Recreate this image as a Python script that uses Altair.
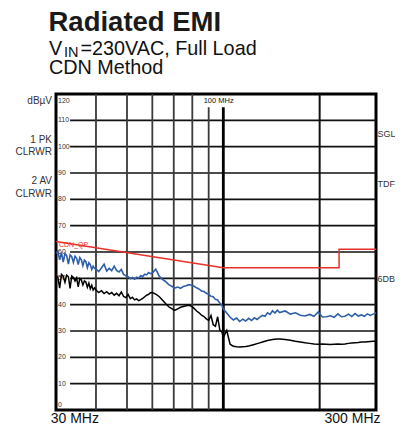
import altair as alt
import pandas as pd

# ---------------- data ----------------
freq_mhz = [
    30.0, 30.4, 30.8, 31.2, 31.6, 32.0, 32.4, 32.8, 33.2, 33.6, 34.0, 34.4, 34.8,
    35.2, 35.6, 36.0, 36.4, 36.8, 37.2, 37.6, 38.0, 38.4, 38.8, 39.2, 39.6,
    40.0, 40.8, 41.6, 42.4, 43.2, 44.0, 44.8, 45.6, 46.4, 47.2, 48.0, 48.8, 49.6,
    50.4, 51.2, 52.0, 52.8, 53.6, 54.4, 55.2, 56.0, 56.8, 57.6, 58.4, 59.2,
    60, 61.5, 63, 64.5, 66, 67.5, 69, 70.5, 72, 73.5, 75, 76.5, 78, 79.5, 81,
    82.5, 84, 85.5, 87, 88.5, 90, 91.5, 93, 94.5, 96, 97.5, 99,
    100, 102.5, 105, 107.5, 110, 112.5, 115, 117.5, 120, 122.5, 125, 127.5, 130,
    132.5, 135, 137.5, 140, 142.5, 145, 147.5,
    150, 156, 162, 168, 174, 180, 186, 192, 198, 204, 210, 216, 222, 228, 234,
    240, 246, 252, 258, 264, 270, 276, 282, 288, 294, 300,
]
peak_dbuv = [
    59.5, 60.3, 57.0, 59.8, 56.2, 59.4, 58.6, 55.4, 58.9, 58.2, 56.0, 58.4, 57.6,
    55.2, 57.9, 57.0, 54.8, 56.9, 56.3, 54.0, 55.9, 55.2, 53.4, 54.6, 53.8,
    53.6, 52.6, 53.9, 55.4, 52.8, 53.8, 52.9, 54.6, 53.0, 52.4, 53.4, 51.5, 51.0,
    50.6, 49.9, 50.3, 49.7, 50.4, 50.1, 51.0, 50.7, 51.6, 51.3, 52.2, 51.8,
    52.0, 53.5, 50.9, 49.6, 48.8, 47.6, 47.0, 46.3, 46.7, 46.2, 46.9, 47.2, 47.6,
    47.4, 47.0, 46.4, 45.9, 45.2, 45.0, 44.3, 44.0, 43.2, 43.0, 42.0, 41.8, 40.6, 39.8,
    38.3, 36.8, 35.2, 34.2, 34.9, 33.6, 34.5, 33.8, 34.8, 34.0, 35.0, 34.4, 35.3,
    35.9, 35.6, 36.9, 36.3, 37.7, 36.8, 37.9,
    37.0, 37.6, 36.4, 36.9, 36.0, 35.7, 36.3, 35.6, 37.2, 35.3, 35.4, 35.8, 35.2,
    36.5, 35.4, 35.6, 36.4, 35.5, 36.6, 35.7, 36.1, 35.6, 36.5, 35.9, 36.4, 36.9,
]
avg_dbuv = [
    51.2, 50.4, 46.3, 51.5, 50.8, 48.5, 51.2, 50.6, 46.2, 50.9, 50.3, 49.0, 50.2,
    46.8, 49.9, 49.4, 47.5, 49.0, 48.6, 46.6, 48.2, 46.0, 47.4, 45.6, 46.4,
    45.6, 44.6, 45.3, 44.2, 44.9, 44.0, 44.6, 43.6, 44.3, 43.4, 44.8, 43.1, 42.7,
    43.9, 42.3, 42.8, 41.8, 42.2, 41.5, 41.9, 42.4, 43.0, 43.6, 43.9, 44.5,
    44.6, 44.0, 43.1, 41.8, 40.4, 39.2, 38.5, 37.8, 38.4, 39.0, 39.3, 39.6, 39.8,
    39.4, 38.6, 37.6, 36.9, 36.0, 35.5, 34.6, 34.0, 35.9, 32.4, 31.8, 35.4, 30.4, 29.6,
    27.6, 30.2, 25.0, 24.2, 24.0, 23.9, 24.0, 24.1, 24.3, 24.6, 24.9, 25.2, 25.5,
    25.8, 26.1, 26.4, 26.6, 26.8, 26.9, 27.0,
    27.0, 26.8, 26.5, 26.1, 25.8, 25.5, 25.3, 25.1, 25.0, 25.1, 25.0, 24.9, 25.0,
    25.1, 25.0, 25.1, 25.3, 25.4, 25.5, 25.6, 25.8, 25.8, 25.9, 26.0, 26.1, 26.1,
]
limit_freq = [30, 100, 230, 230, 300]
limit_dbuv = [64, 54, 54, 61, 61]

hgrid_dbuv = [10, 20, 30, 40, 50, 60, 70, 80, 90, 100, 110]
vgrid_thin = [40, 50, 60, 70, 80]
vgrid_short = [90]
vgrid_thick = [100]
vgrid_far = [200]
y_mid_ticks = [10, 20, 30, 40, 50, 60, 70, 80, 90, 100, 110]
y_top_tick = [120]
y_bottom_tick = [0]
x_tick_labels = ["30 MHz", "300 MHz"]

title_text = ["Radiated EMI"]
sub_v = ["V"]
sub_in = ["IN"]
sub_rest = ["=230VAC, Full Load"]
sub_line2 = ["CDN Method"]
left_labels = ["dBµV", "1 PK", "CLRWR", "2 AV", "CLRWR"]
right_labels = ["SGL", "TDF", "6DB"]
limit_label = ["CDN_QP"]
marker_label = ["100 MHz"]

FONT = "Liberation Sans"

# ---------------- scales ----------------
xs = alt.Scale(type="log", domain=[30, 300], nice=False)
ys = alt.Scale(domain=[0, 120], nice=False, zero=False)

curves = pd.DataFrame({"f": freq_mhz, "peak": peak_dbuv, "avg": avg_dbuv})
limit_df = pd.DataFrame({"f": limit_freq, "v": limit_dbuv})

hgrid = alt.Chart(pd.DataFrame({"v": hgrid_dbuv})).mark_rule(
    color="#111", strokeWidth=1.6
).encode(
    y=alt.Y("v:Q", scale=ys, axis=None),
    x=alt.datum(33.2, scale=xs, axis=None, type="quantitative"),
    x2=alt.datum(300),
)


def vlines(vals, top, color, width):
    return alt.Chart(pd.DataFrame({"f": vals})).mark_rule(
        color=color, strokeWidth=width
    ).encode(
        x=alt.X("f:Q", scale=xs, axis=None),
        y=alt.datum(0, scale=ys, axis=None, type="quantitative"),
        y2=alt.datum(top),
    )


v1 = vlines(vgrid_thin, 120, "#3a3a3a", 1.8)
v2 = vlines(vgrid_short, 115, "#3a3a3a", 1.8)
v3 = vlines(vgrid_thick, 115, "#000000", 2.8)
v4 = vlines(vgrid_far, 120, "#111111", 2.0)


def ytick_layer(vals, baseline, dy):
    return alt.Chart(pd.DataFrame({"v": vals})).mark_text(
        align="left", baseline=baseline, dy=dy, fontSize=7, color="#333", font=FONT
    ).encode(
        text=alt.Text("v:Q"),
        x=alt.value(2),
        y=alt.Y("v:Q", scale=ys, axis=None),
    )


yt_mid = ytick_layer(y_mid_ticks, "middle", 0)
yt_top = ytick_layer(y_top_tick, "top", 3)
yt_bot = ytick_layer(y_bottom_tick, "alphabetic", -3.5)

limit_line = alt.Chart(limit_df).mark_line(color="#e8302a", strokeWidth=1.5).encode(
    x=alt.X("f:Q", scale=xs, axis=None),
    y=alt.Y("v:Q", scale=ys, axis=None),
)
peak_line = alt.Chart(curves).mark_line(color="#2f5fa8", strokeWidth=1.6).encode(
    x=alt.X("f:Q", scale=xs, axis=None),
    y=alt.Y("peak:Q", scale=ys, axis=None),
)
avg_line = alt.Chart(curves).mark_line(color="#000000", strokeWidth=1.5).encode(
    x=alt.X("f:Q", scale=xs, axis=None),
    y=alt.Y("avg:Q", scale=ys, axis=None),
)

limit_txt = alt.Chart(pd.DataFrame({"t": limit_label})).mark_text(
    align="left", baseline="middle", fontSize=7, color="#e8302a", font=FONT
).encode(text="t:N",
         x=alt.datum(30.65, scale=xs, axis=None, type="quantitative"),
         y=alt.datum(62.8, scale=ys, axis=None, type="quantitative"))

marker_txt = alt.Chart(pd.DataFrame({"t": marker_label})).mark_text(
    align="center", baseline="middle", fontSize=7.5, color="#111", font=FONT
).encode(text="t:N",
         x=alt.datum(96.7, scale=xs, axis=None, type="quantitative"),
         y=alt.datum(117.4, scale=ys, axis=None, type="quantitative"))


def pix_text(txt, x, y, size, align="left", weight="normal", color="#111",
             baseline="alphabetic"):
    return alt.Chart(pd.DataFrame({"t": txt})).mark_text(
        align=align, baseline=baseline, fontSize=size, fontWeight=weight,
        color=color, font=FONT
    ).encode(text="t:N", x=alt.value(x), y=alt.value(y))


t_title = pix_text(title_text, -7.5, -63, 27.5, weight="bold", color="#1a1a1a")
t_v = pix_text(sub_v, -7, -39, 19.8)
t_in = pix_text(sub_in, 8, -36.7, 14.5)
t_rest = pix_text(sub_rest, 24.5, -39, 19.8)
t_line2 = pix_text(sub_line2, -7, -20, 19.8)

# x-axis end labels (flush left / flush right under the frame)
t_x0 = pix_text([x_tick_labels[0]], -5.3, 328.5, 14)
t_x1 = pix_text([x_tick_labels[1]], 324.5, 328.5, 14, align="right")

left_y = [7, 46, 58, 86.7, 100]
right_y = [40, 90.3, 185.3]
lefts = [pix_text([s], -4, yy, 10, align="right", baseline="middle", color="#333")
         for s, yy in zip(left_labels, left_y)]
rights = [pix_text([s], 321.5, yy, 9, align="left", baseline="middle", color="#333")
          for s, yy in zip(right_labels, right_y)]

chart = alt.layer(
    hgrid, v1, v2, v3, v4, yt_mid, yt_top, yt_bot, limit_line, peak_line, avg_line,
    limit_txt, marker_txt, t_title, t_v, t_in, t_rest, t_line2, t_x0, t_x1,
    *lefts, *rights
).properties(
    width=320, height=316,
    autosize=alt.AutoSizeParams(type="none"),
    padding={"left": 48, "top": 86, "right": 19, "bottom": 13},
    background="white",
).configure_view(stroke="#000000", strokeWidth=3)

chart.save("out.html", embed_options={"renderer": "svg", "actions": False})
